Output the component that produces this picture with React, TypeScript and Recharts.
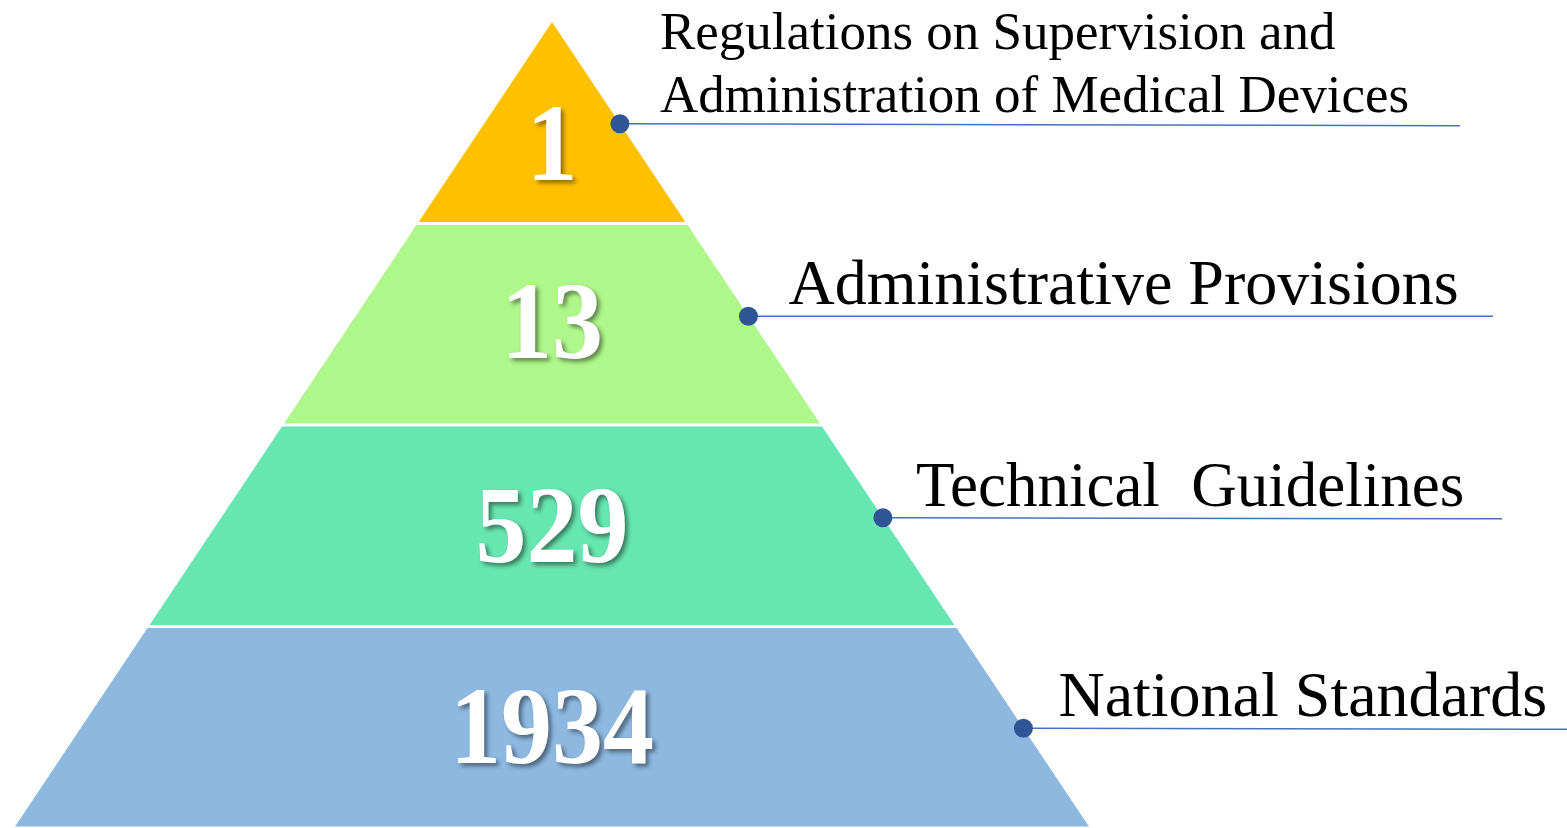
import { FunnelChart, Funnel } from "recharts";

// tiers, top of the pyramid first
const TIER_NAMES = [
  "Regulations on Supervision and Administration of Medical Devices",
  "Administrative Provisions",
  "Technical  Guidelines",
  "National Standards",
];
const TIER_LINES = [
  ["Regulations on Supervision and", "Administration of Medical Devices"],
  ["Administrative Provisions"],
  ["Technical  Guidelines"],
  ["National Standards"],
];
const DOC_COUNTS = [1, 13, 529, 1934];
// step width of the pyramid (the shape is not scaled to the counts)
const TIER_RANK = [1, 2, 3, 4];
const TIER_COLORS = ["#FFC000", "#AEF78A", "#66E6B0", "#8DB8E0"];

// callout tweaks, per tier
const LABEL_FONT = [53, 64, 63, 64];
const DOT_DY = [1, -8, -8, 1];
const TEXT_DX = [40, 40, 33, 35];
const LINE_END = [1460, 1493, 1502, 1567];
const LINE_TILT = [2, 0, 1, 1];
const NUM_DY = [57, 34, 36, 36];

const SERIF = '"Liberation Serif", "Times New Roman", serif';

// Funnel is reversed, so the widest tier goes first
const data = TIER_NAMES.map((name, idx) => ({
  name,
  idx,
  rank: TIER_RANK[idx],
  count: DOC_COUNTS[idx],
})).reverse();

function Tier(props: any) {
  const { x, y, upperWidth, lowerWidth, height, payload } = props;
  const i = payload.idx;
  const cx = x + upperWidth / 2;
  const half = (t: number) => (upperWidth + (lowerWidth - upperWidth) * t) / 2;
  const g = 1.6 / height;
  const t0 = i === 0 ? 0 : g;
  const t1 = 1 - g;
  const pts = [
    [cx - half(t0), y + t0 * height],
    [cx + half(t0), y + t0 * height],
    [cx + half(t1), y + t1 * height],
    [cx - half(t1), y + t1 * height],
  ]
    .map((p) => p.join(","))
    .join(" ");

  const midY = y + height / 2;
  const dotY = midY + DOT_DY[i];
  const dotX = cx + half((dotY - y) / height);
  const lines = TIER_LINES[i];
  const tx = dotX + TEXT_DX[i];

  return (
    <g>
      <polygon points={pts} fill={TIER_COLORS[i]} />
      <text
        x={cx}
        y={midY + NUM_DY[i]}
        textAnchor="middle"
        fill="#fff"
        fontFamily={SERIF}
        fontWeight="bold"
        fontSize={110}
        textLength={String(payload.count).length * 51}
        lengthAdjust="spacingAndGlyphs"
        style={{ filter: "drop-shadow(3px 3px 2px rgba(0,0,0,0.45))" }}
      >
        {payload.count}
      </text>
      <line
        x1={dotX}
        y1={dotY}
        x2={LINE_END[i]}
        y2={dotY + LINE_TILT[i]}
        stroke="#4472C4"
        strokeWidth={1.5}
      />
      <circle cx={dotX} cy={dotY} r={9.5} fill="#2F5597" />
      {lines.map((ln, k) => (
        <text
          key={k}
          x={tx}
          y={dotY - 12 - (lines.length - 1 - k) * 63}
          fill="#000"
          fontFamily={SERIF}
          fontSize={LABEL_FONT[i]}
          style={{ whiteSpace: "pre" }}
        >
          {ln}
        </text>
      ))}
    </g>
  );
}

export default function App() {
  return (
    <div style={{ position: "absolute", left: 0, top: 0, background: "#fff" }}>
      <FunnelChart
        width={1567}
        height={828}
        margin={{ top: 22, right: 477, bottom: 0, left: 14 }}
      >
        <Funnel
          data={data}
          dataKey="rank"
          nameKey="name"
          reversed
          shape={Tier}
          isAnimationActive={false}
        />
      </FunnelChart>
    </div>
  );
}
